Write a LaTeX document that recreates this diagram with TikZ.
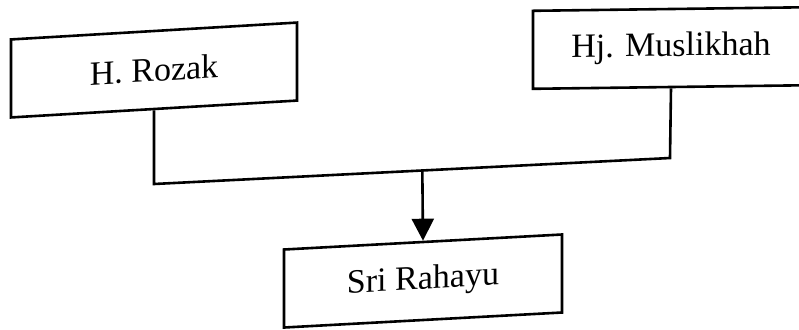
\documentclass[tikz,border=0pt]{standalone}
\usepackage{fontspec}
\setmainfont{Liberation Serif}
\usetikzlibrary{arrows.meta,calc}

\begin{document}
\begin{tikzpicture}[
  x=0.5pt, y=-0.5pt,
  font=\fontsize{17}{20}\selectfont,
  box/.style={draw,line width=1.3pt,fill=white,minimum width=143pt,minimum height=39pt,inner sep=0pt,transform shape},
  link/.style={line width=1.3pt},
  arrow/.style={link,-{Triangle[width=11pt,length=11pt]}}
]
\useasboundingbox (0,0) rectangle (799,329);

% --- Nodes (parents on top, child below) ---
\node[box,yslant=0.059]                      (rozak)  at (154,70)  {H. Rozak};
\node[box,yslant=0.013,minimum width=138pt]  (mus)    at (671,48)  {Hj. Muslikhah};
\node[box,yslant=0.054,minimum width=139pt]  (rahayu) at (423,281) {Sri Rahayu};

% --- Joint line between the parents ---
\coordinate (jl) at (154,184);
\coordinate (jr) at (670,158);
\coordinate (jm) at ($(jl)!0.52!(jr)$);

\draw[link] (rozak.south) -- (jl) -- (jr) -- (mus.south);
\draw[arrow] (jm) -- (rahayu.north);
\end{tikzpicture}
\end{document}
